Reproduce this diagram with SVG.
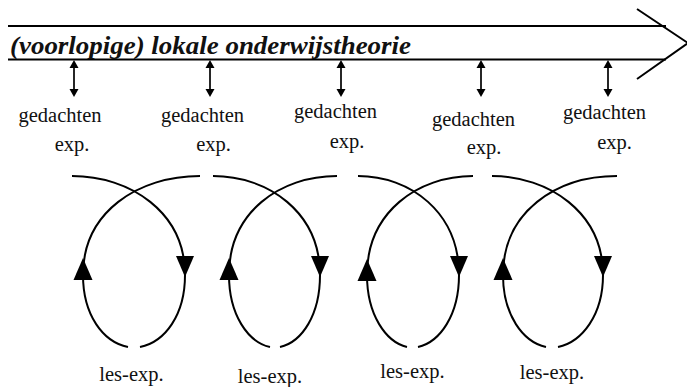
<svg xmlns="http://www.w3.org/2000/svg" width="687" height="387" viewBox="0 0 687 387">
<style>
  .ln { stroke:#000; stroke-width:2; fill:none; }
  .thin { stroke:#000; stroke-width:1.7; fill:none; }
  .lbl { font-family:"Liberation Serif","Times New Roman",serif; font-size:20.5px; fill:#111; text-anchor:middle; }
  .title { font-family:"Liberation Serif","Times New Roman",serif; font-size:25.5px; font-weight:bold; font-style:italic; fill:#111; }
</style>
<defs>
  <path id="dn" d="M-9,0 L9,0 L0,21 Z" fill="#000"/>
  <path id="up" d="M0,0 L9.5,22 L-9.5,22 Z" fill="#000"/>
  <g id="dbl">
    <line x1="0" y1="66" x2="0" y2="91" class="thin"/>
    <path d="M0,60 L4.5,68 L-4.5,68 Z M0,97 L4.5,89 L-4.5,89 Z" fill="#000"/>
  </g>
</defs>

<g id="theory-arrow">
  <line x1="8" y1="26" x2="666" y2="26" class="ln"/>
  <line x1="8" y1="59.5" x2="666" y2="59.5" class="ln"/>
  <polyline points="637,9 688,43 637,79" class="ln"/>
  <text x="10" y="53.5" class="title" textLength="401" lengthAdjust="spacingAndGlyphs">(voorlopige) lokale onderwijstheorie</text>
</g>

<g id="connectors">
  <use href="#dbl" x="74"/>
  <use href="#dbl" x="210"/>
  <use href="#dbl" x="341"/>
  <use href="#dbl" x="481"/>
  <use href="#dbl" x="608"/>
</g>

<g id="thought-1">
  <text x="60" y="122" class="lbl">gedachten</text>
  <text x="72" y="151" class="lbl">exp.</text>
</g>
<g id="thought-2">
  <text x="202.5" y="122" class="lbl">gedachten</text>
  <text x="213.5" y="151" class="lbl">exp.</text>
</g>
<g id="thought-3">
  <text x="335.5" y="118" class="lbl">gedachten</text>
  <text x="347" y="148" class="lbl">exp.</text>
</g>
<g id="thought-4">
  <text x="473.5" y="125.5" class="lbl">gedachten</text>
  <text x="484" y="154" class="lbl">exp.</text>
</g>
<g id="thought-5">
  <text x="604.5" y="119" class="lbl">gedachten</text>
  <text x="614.5" y="149" class="lbl">exp.</text>
</g>

<g id="loop-1">
  <path class="ln" d="M72,176 C130,176 185,212 185,275 C185,315 165,342 140,347"/>
  <path class="ln" d="M128,347 C103,342 83,315 83,275 C83,212 138,176 200,176"/>
  <use href="#dn" x="185" y="256"/>
  <use href="#up" x="83" y="258"/>
  <text x="131.5" y="381" class="lbl">les-exp.</text>
</g>
<g id="loop-2">
  <path class="ln" d="M213,176 C268,176 320,212 320,275 C320,315 302,342 280,347"/>
  <path class="ln" d="M270,347 C248,342 229,315 229,275 C229,212 280,176 337,176"/>
  <use href="#dn" x="320" y="256"/>
  <use href="#up" x="229" y="258"/>
  <text x="270" y="383" class="lbl">les-exp.</text>
</g>
<g id="loop-3">
  <path class="ln" d="M358,176 C410,176 459,212 459,275 C459,315 440,342 418,347"/>
  <path class="ln" d="M407,347 C386,342 367,315 367,275 C367,212 418,176 473,176"/>
  <use href="#dn" x="459" y="256"/>
  <use href="#up" x="367" y="259"/>
  <text x="412.5" y="378" class="lbl">les-exp.</text>
</g>
<g id="loop-4">
  <path class="ln" d="M492,176 C548,176 603,212 603,275 C603,315 582,342 558,347"/>
  <path class="ln" d="M546,347 C523,342 503,315 503,275 C503,212 556,176 617,176"/>
  <use href="#dn" x="603" y="256"/>
  <use href="#up" x="503" y="258"/>
  <text x="552" y="379" class="lbl">les-exp.</text>
</g>
</svg>
